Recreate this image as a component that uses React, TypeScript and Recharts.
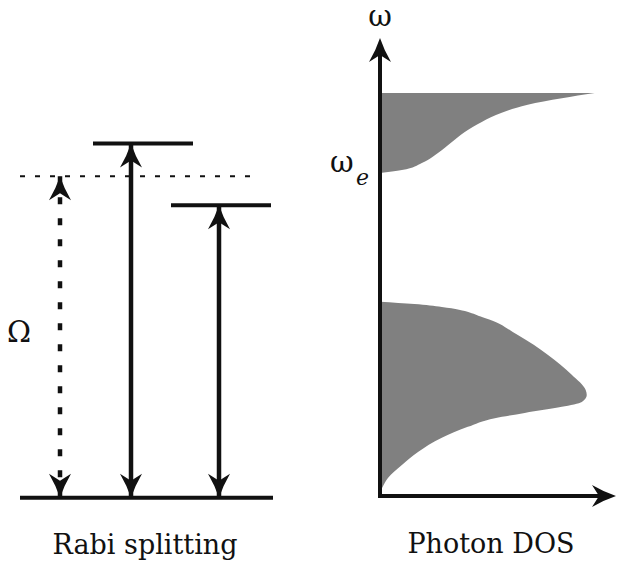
import React from 'react';
import { ComposedChart, Area, XAxis, YAxis, ReferenceLine, ReferenceDot } from 'recharts';

// energy levels, in units of the bare exciton energy
const levelNames = ['ground', 'exciton', 'upper', 'lower'];
const levelEnergies = [0, 1, 1.102, 0.91];

// transitions drawn from the ground level (index into levels)
const transitionTo = [1, 2, 3];

// photon DOS: lower band and upper band (omega in units of omega_e)
const lowerOmega = [0.012, 0.028, 0.056, 0.096, 0.136, 0.18, 0.214, 0.241, 0.257, 0.276, 0.291, 0.313, 0.328, 0.375, 0.437, 0.498, 0.551, 0.585, 0.594, 0.601];
const lowerDos = [0, 0.012, 0.037, 0.102, 0.177, 0.288, 0.409, 0.535, 0.674, 0.847, 0.94, 0.963, 0.958, 0.893, 0.781, 0.642, 0.488, 0.288, 0.16, 0];
const upperOmega = [1.0, 1.009, 1.031, 1.062, 1.096, 1.127, 1.158, 1.186, 1.211, 1.231, 1.247];
const upperDos = [0, 0.102, 0.195, 0.27, 0.335, 0.395, 0.474, 0.567, 0.688, 0.847, 1.0];

const dosRows = [
  ...lowerOmega.map((w, i) => ({ omega: w, lower: lowerDos[i], upper: null })),
  ...upperOmega.map((w, i) => ({ omega: w, lower: null, upper: upperDos[i] })),
];

const INK = '#111';
const SERIF = "'DejaVu Serif', serif";

// layout of the level diagram (x in diagram units, 10px each)
const levelSpan: Record<string, [number, number]> = {
  ground: [2.0, 27.3],
  exciton: [2.0, 25.0],
  upper: [9.3, 19.3],
  lower: [17.1, 27.1],
};
const arrowX = [6.0, 13.1, 21.9];

// arrowhead, tip pointing up before rotation; atTip puts the tip on the point
const arrowHead = (angle: number, atTip: boolean) => (props: any) => {
  const { cx, cy } = props;
  const d = atTip
    ? 'M0,0 Q4,12 11,24 L0,17 L-11,24 Q-4,12 0,0 Z'
    : 'M0,-17 Q4,-5 11,7 L0,0 L-11,7 Q-4,-5 0,-17 Z';
  return <path d={d} fill={INK} transform={`translate(${cx},${cy}) rotate(${angle})`} />;
};

const textStyle = (size: number, left: number, baseline: number, extra: any = {}) => ({
  position: 'absolute' as const,
  left,
  top: baseline - size * 0.846,
  fontSize: size,
  lineHeight: `${size}px`,
  fontFamily: SERIF,
  color: INK,
  whiteSpace: 'nowrap' as const,
  ...extra,
});

const RabiDiagram = () => (
  <ComposedChart width={300} height={562} data={[]} margin={{ top: 112, right: 0, bottom: 32, left: 0 }}>
    <XAxis type="number" dataKey="x" domain={[0, 30]} scale="linear" allowDataOverflow hide />
    <YAxis type="number" domain={[-0.1, 1.2]} scale="linear" allowDataOverflow hide />
    {levelNames.map((name, i) => (
      <ReferenceLine
        key={name}
        segment={[{ x: levelSpan[name][0], y: levelEnergies[i] }, { x: levelSpan[name][1], y: levelEnergies[i] }]}
        stroke={INK}
        strokeWidth={name === 'exciton' ? 2 : 4}
        strokeDasharray={name === 'exciton' ? '5 10' : undefined}
      />
    ))}
    {transitionTo.map((to, k) => (
      <ReferenceLine
        key={`shaft-${k}`}
        segment={[{ x: arrowX[k], y: levelEnergies[to] }, { x: arrowX[k], y: levelEnergies[0] }]}
        stroke={INK}
        strokeWidth={4.5}
        strokeDasharray={levelNames[to] === 'exciton' ? '7 14' : undefined}
      />
    ))}
    {transitionTo.map((to, k) => (
      <ReferenceDot key={`top-${k}`} x={arrowX[k]} y={levelEnergies[to]} shape={arrowHead(0, true)} ifOverflow="visible" />
    ))}
    {transitionTo.map((to, k) => (
      <ReferenceDot key={`bot-${k}`} x={arrowX[k]} y={levelEnergies[0]} shape={arrowHead(180, true)} ifOverflow="visible" />
    ))}
  </ComposedChart>
);

const W_MAX = 1.365;
const DOS_MAX = 1.02;

const DosChart = () => (
  <ComposedChart layout="vertical" width={317} height={562} data={dosRows} margin={{ top: 55, right: 18, bottom: 66, left: 80 }}>
    <XAxis type="number" dataKey="x" domain={[0, DOS_MAX]} scale="linear" allowDataOverflow hide />
    <YAxis type="number" dataKey="omega" domain={[0, W_MAX]} scale="linear" allowDataOverflow reversed hide />
    <Area dataKey="lower" type="monotone" stroke="none" fill="#808080" fillOpacity={1} dot={false} activeDot={false} isAnimationActive={false} />
    <Area dataKey="upper" type="monotone" stroke="none" fill="#808080" fillOpacity={1} dot={false} activeDot={false} isAnimationActive={false} />
    <ReferenceLine segment={[{ x: 0, y: 0 }, { x: 0, y: W_MAX }]} stroke={INK} strokeWidth={4} strokeLinecap="square" ifOverflow="visible" />
    <ReferenceLine segment={[{ x: 0, y: 0 }, { x: DOS_MAX, y: 0 }]} stroke={INK} strokeWidth={4} strokeLinecap="square" ifOverflow="visible" />
    <ReferenceDot x={0} y={W_MAX} shape={arrowHead(0, false)} ifOverflow="visible" />
    <ReferenceDot x={DOS_MAX} y={0} shape={arrowHead(90, false)} ifOverflow="visible" />
  </ComposedChart>
);

export default function App() {
  return (
    <div style={{ position: 'absolute', left: 0, top: 0, width: 617, height: 562, background: '#fff', overflow: 'hidden' }}>
      <div style={{ position: 'absolute', left: 0, top: 0 }}>
        <RabiDiagram />
      </div>
      <div style={{ position: 'absolute', left: 300, top: 0 }}>
        <DosChart />
      </div>
      <div style={textStyle(29, 7, 343)}>Ω</div>
      <div style={textStyle(29, 350, 27, { width: 60, textAlign: 'center' })}>ω</div>
      <div style={textStyle(29, 330, 173)}>ω</div>
      <div style={textStyle(22, 356, 186, { fontStyle: 'italic' })}>e</div>
      <div style={textStyle(27, 0, 554, { width: 290, textAlign: 'center' })}>Rabi splitting</div>
      <div style={textStyle(27, 391, 553, { width: 200, textAlign: 'center' })}>Photon DOS</div>
    </div>
  );
}
